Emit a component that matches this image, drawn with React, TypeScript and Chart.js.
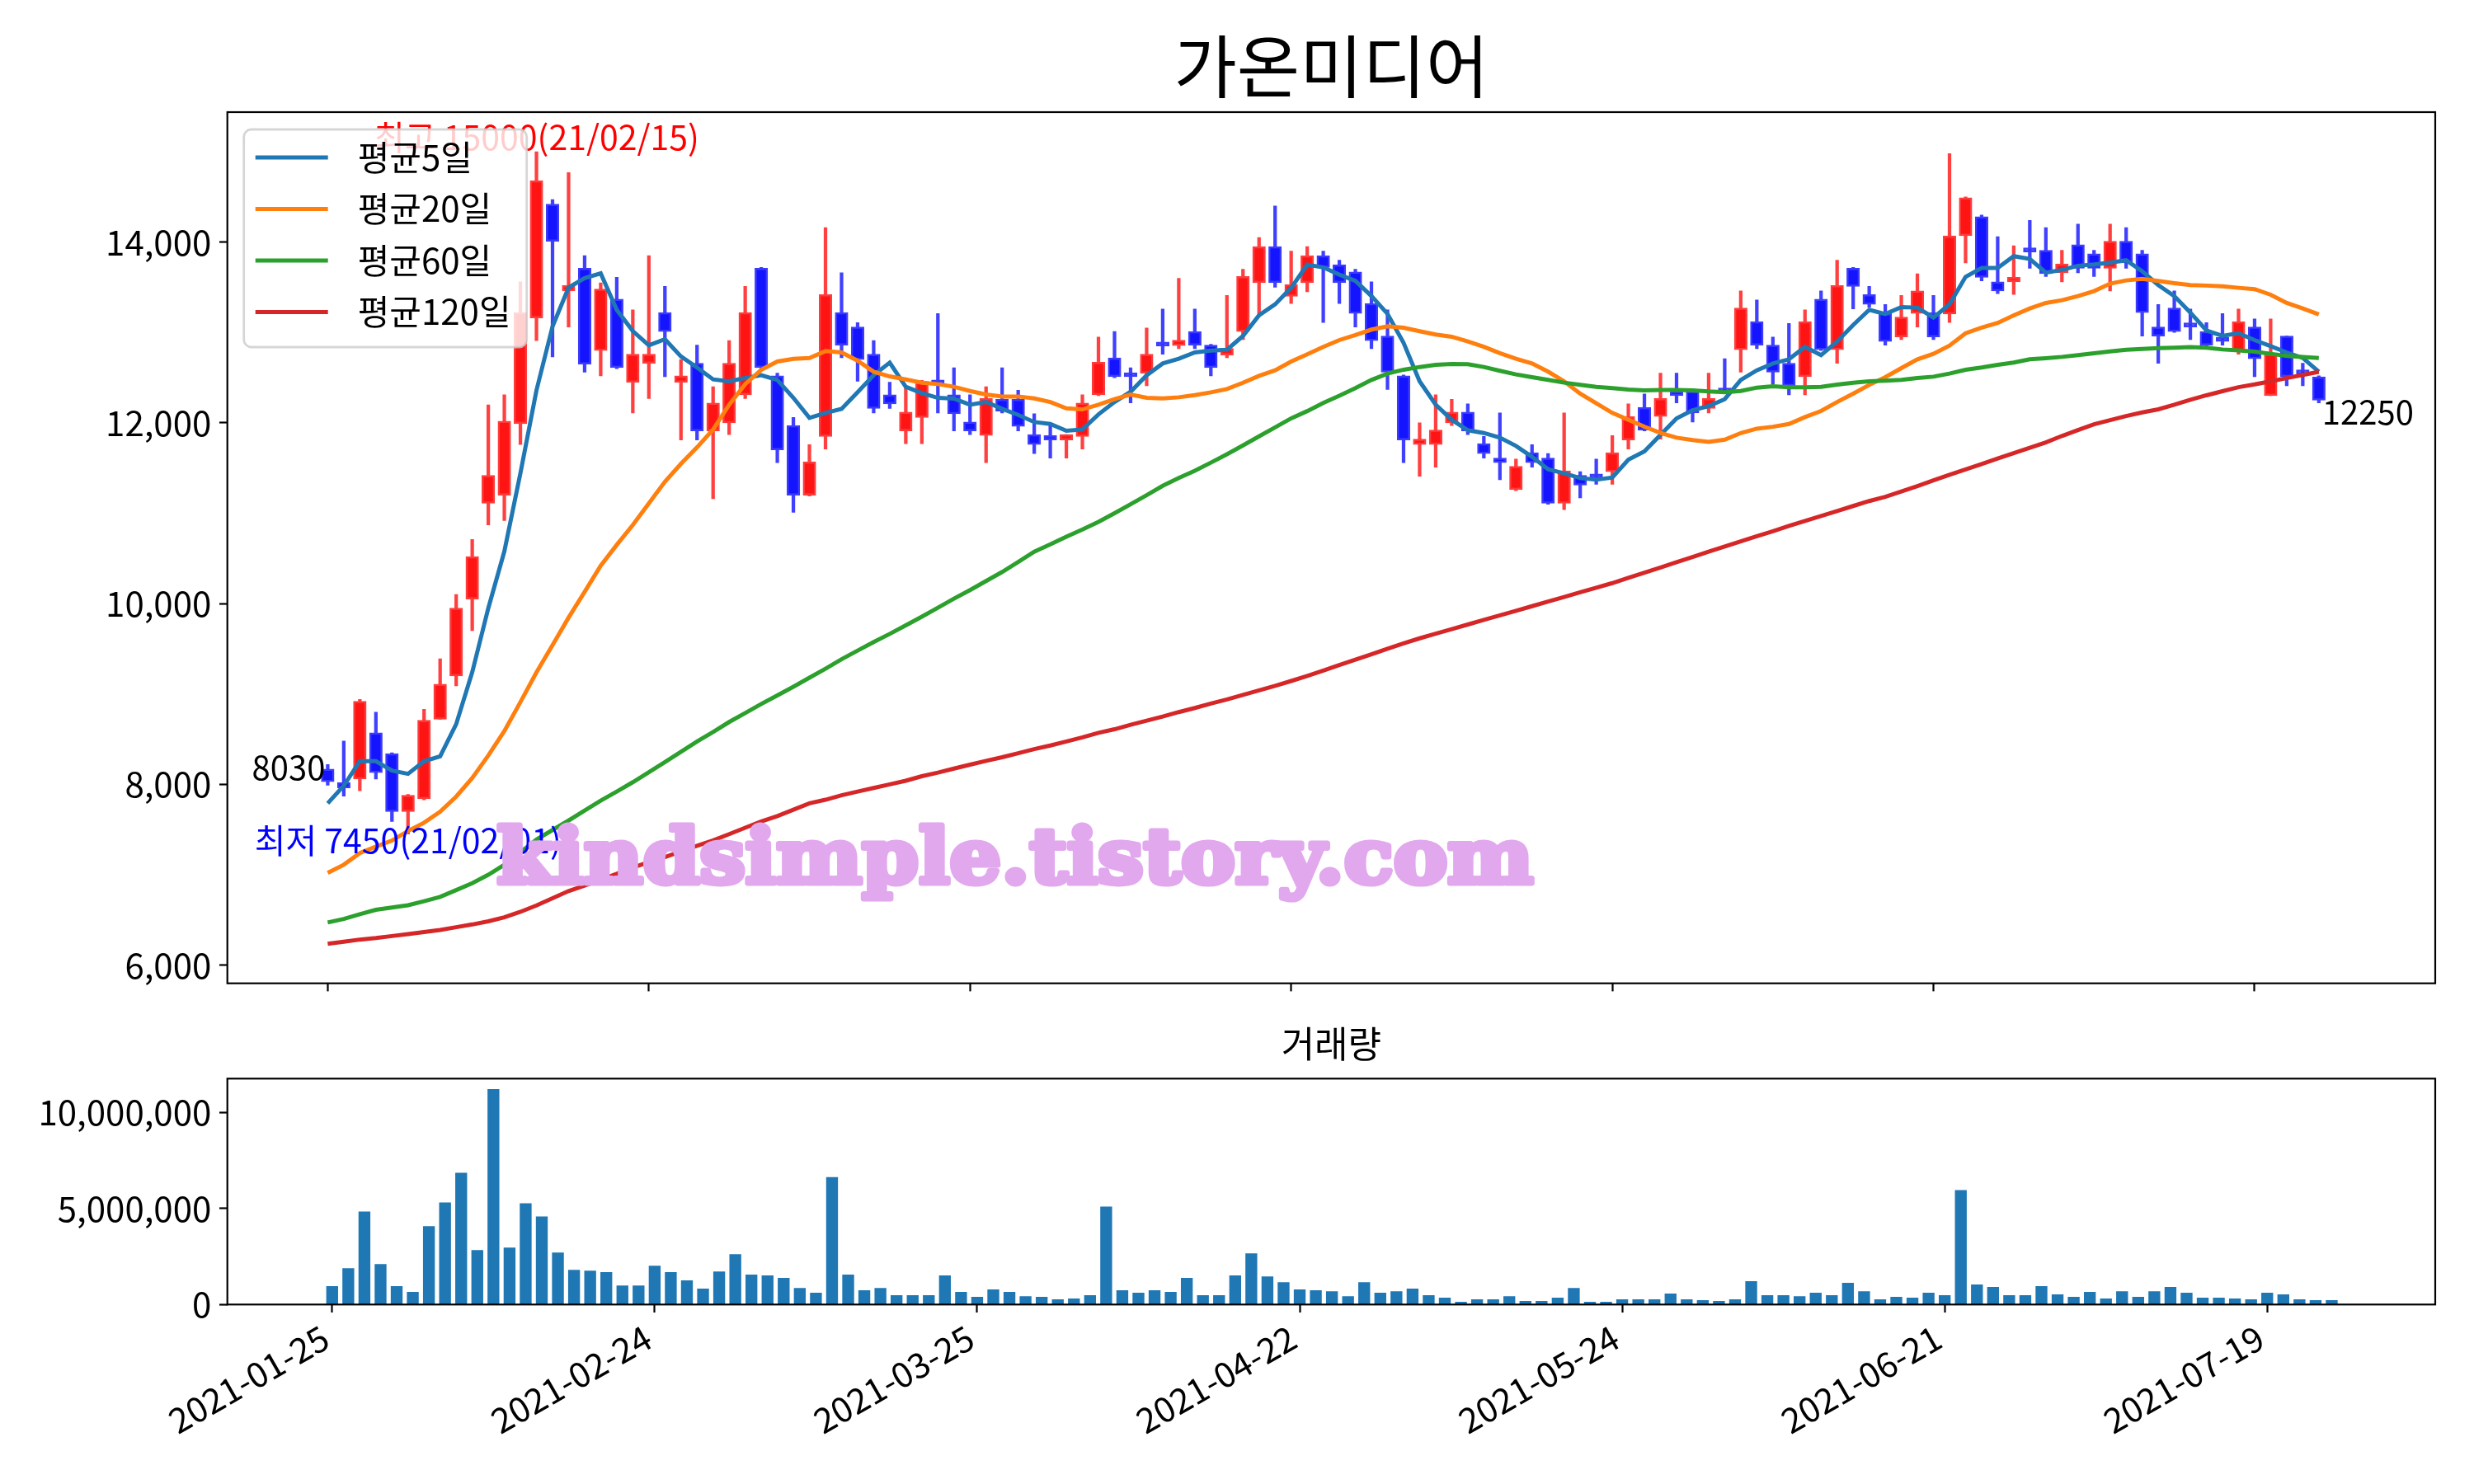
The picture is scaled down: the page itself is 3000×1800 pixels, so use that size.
import React, { useEffect, useRef } from "react";
import { Chart, registerables } from "chart.js";

Chart.register(...registerables);

const FONT = '"Noto Sans CJK KR", "Noto Sans", sans-serif';

const chartTitle = "가온미디어";
const volumeTitle = "거래량";
const watermark = "kindsimple.tistory.com";
const legendLabels = ["평균5일", "평균20일", "평균60일", "평균120일"];
const maColors = ["#1f77b4", "#ff7f0e", "#2ca02c", "#d62728"];

const dates = [
  "2021-01-25", "2021-01-26", "2021-01-27", "2021-01-28", "2021-01-29",
  "2021-02-01", "2021-02-02", "2021-02-03", "2021-02-04", "2021-02-05",
  "2021-02-08", "2021-02-09", "2021-02-10",
  "2021-02-15", "2021-02-16", "2021-02-17", "2021-02-18", "2021-02-19",
  "2021-02-22", "2021-02-23", "2021-02-24", "2021-02-25", "2021-02-26",
  "2021-03-02", "2021-03-03", "2021-03-04", "2021-03-05",
  "2021-03-08", "2021-03-09", "2021-03-10", "2021-03-11", "2021-03-12",
  "2021-03-15", "2021-03-16", "2021-03-17", "2021-03-18", "2021-03-19",
  "2021-03-22", "2021-03-23", "2021-03-24", "2021-03-25", "2021-03-26",
  "2021-03-29", "2021-03-30", "2021-03-31", "2021-04-01", "2021-04-02",
  "2021-04-05", "2021-04-06", "2021-04-07", "2021-04-08", "2021-04-09",
  "2021-04-12", "2021-04-13", "2021-04-14", "2021-04-15", "2021-04-16",
  "2021-04-19", "2021-04-20", "2021-04-21", "2021-04-22", "2021-04-23",
  "2021-04-26", "2021-04-27", "2021-04-28", "2021-04-29", "2021-04-30",
  "2021-05-03", "2021-05-04", "2021-05-06", "2021-05-07",
  "2021-05-10", "2021-05-11", "2021-05-12", "2021-05-13", "2021-05-14",
  "2021-05-17", "2021-05-18", "2021-05-20", "2021-05-21",
  "2021-05-24", "2021-05-25", "2021-05-26", "2021-05-27", "2021-05-28",
  "2021-05-31", "2021-06-01", "2021-06-02", "2021-06-03", "2021-06-04",
  "2021-06-07", "2021-06-08", "2021-06-09", "2021-06-10", "2021-06-11",
  "2021-06-14", "2021-06-15", "2021-06-16", "2021-06-17", "2021-06-18",
  "2021-06-21", "2021-06-22", "2021-06-23", "2021-06-24", "2021-06-25",
  "2021-06-28", "2021-06-29", "2021-06-30", "2021-07-01", "2021-07-02",
  "2021-07-05", "2021-07-06", "2021-07-07", "2021-07-08", "2021-07-09",
  "2021-07-12", "2021-07-13", "2021-07-14", "2021-07-15", "2021-07-16",
  "2021-07-19", "2021-07-20", "2021-07-21", "2021-07-22", "2021-07-23",
];

const opens = [
  8170, 8020, 8060, 8570, 8340, 7700, 7840, 8720, 9200, 10050,
  11110, 11200, 11990, 13160, 14420, 13460, 13710, 12800, 13370, 12450,
  12660, 13220, 12450, 12660, 11910, 12000, 12310, 13710, 12520, 11970,
  11200, 11850, 13220, 13060, 12760, 12310, 11910, 12060, 12460, 12310,
  12010, 11860, 12260, 12260, 11870, 11860, 11810, 11850, 12310, 12720,
  12550, 12550, 12860, 12855, 13010, 12860, 12750, 13010, 13550, 13950,
  13400, 13550, 13850, 13750, 13670, 13320, 12960, 12520, 11760, 11760,
  12000, 12120, 11770, 11610, 11260, 11670, 11610, 11110, 11420, 11420,
  11460, 11810, 12170, 12070, 12350, 12350, 12160, 12370, 12810, 13120,
  12860, 12660, 12510, 13370, 12810, 13710, 13420, 13210, 12950, 13210,
  13220, 13205, 14070, 14280, 13560, 13560, 13910, 13910, 13660, 13970,
  13870, 13710, 14010, 13870, 13060, 13270, 13070, 13010, 12920, 12800,
  13060, 12300, 12960, 12570, 12510,
];
const highs = [
  8220, 8480, 8940, 8800, 8350, 7890, 8830, 9390, 10100, 10710,
  12200, 12310, 13560, 15000, 14470, 14770, 13850, 13550, 13610, 13250,
  13850, 13510, 12700, 12860, 12400, 12910, 13510, 13720, 12550, 12060,
  11760, 14160, 13660, 13110, 12910, 12450, 12400, 12470, 13210, 12610,
  12310, 12400, 12610, 12360, 12100, 11970, 11870, 12310, 12950, 13010,
  12610, 13050, 13260, 13600, 13260, 12870, 13410, 13700, 14050, 14400,
  13900, 13950, 13900, 13800, 13700, 13560, 13250, 12530, 12000, 12310,
  12260, 12210, 11850, 12110, 11600, 11760, 11660, 12110, 11460, 11600,
  11860, 12210, 12320, 12550, 12550, 12380, 12550, 12710, 13460, 13360,
  12950, 13100, 13250, 13460, 13800, 13720, 13510, 13310, 13410, 13650,
  13410, 14980, 14500, 14300, 14060, 13960, 14240, 14160, 13910, 14200,
  13910, 14200, 14160, 13910, 13310, 13460, 13260, 13110, 13210, 13260,
  13150, 13150, 12960, 12660, 12520,
];
const lows = [
  7990, 7870, 7930, 8060, 7590, 7450, 7830, 8720, 9090, 9700,
  10870, 10920, 11760, 12910, 12730, 13060, 12560, 12520, 12600, 12110,
  12270, 12510, 11810, 11810, 11160, 11870, 12270, 12600, 11560, 11010,
  11190, 11710, 12720, 12460, 12110, 12160, 11770, 11770, 12110, 11910,
  11870, 11560, 12110, 11910, 11660, 11610, 11610, 11710, 12300, 12500,
  12220, 12410, 12760, 12820, 12820, 12520, 12720, 12920, 13200, 13500,
  13320, 13450, 13110, 13320, 13060, 12820, 12370, 11560, 11410, 11510,
  11970, 11870, 11610, 11370, 11250, 11510, 11100, 11040, 11170, 11320,
  11320, 11710, 11910, 11820, 12220, 12010, 12110, 12330, 12560, 12820,
  12430, 12310, 12310, 12800, 12660, 13260, 13280, 12860, 12920, 13060,
  12920, 13110, 13770, 13570, 13430, 13420, 13710, 13620, 13560, 13660,
  13620, 13460, 13710, 12960, 12660, 13000, 12920, 12850, 12860, 12760,
  12510, 12300, 12410, 12410, 12220,
];
const closes = [
  8030, 7960, 8920, 8130, 7700, 7880, 8710, 9110, 9950, 10520,
  11420, 12020, 13220, 14680, 14010, 13520, 12650, 13480, 12610, 12760,
  12760, 13010, 12520, 11910, 12220, 12660, 13220, 12610, 11700, 11200,
  11570, 13420, 12860, 12700, 12160, 12210, 12120, 12460, 12430, 12100,
  11910, 12270, 12130, 11960, 11760, 11810, 11870, 12220, 12670, 12510,
  12510, 12760, 12850, 12915, 12860, 12610, 12825, 13620, 13950, 13550,
  13530, 13850, 13720, 13550, 13210, 12910, 12560, 11810, 11820, 11920,
  12120, 11910, 11660, 11560, 11520, 11560, 11110, 11470, 11310, 11390,
  11670, 12070, 11920, 12270, 12300, 12110, 12270, 12340, 13270, 12860,
  12560, 12410, 13120, 12810, 13520, 13510, 13310, 12900, 13170, 13460,
  12950, 14070, 14490, 13610, 13460, 13610, 13890, 13650, 13760, 13710,
  13710, 14010, 13770, 13220, 12960, 13010, 13060, 12860, 12900, 13120,
  12710, 12760, 12510, 12540, 12250,
];
const volumes = [
  940000, 1880000, 4830000, 2090000, 940000, 640000, 4060000, 5300000, 6840000, 2820000,
  11200000, 2950000, 5260000, 4570000, 2690000, 1790000, 1750000, 1670000, 980000, 980000,
  2010000, 1670000, 1240000, 810000, 1710000, 2610000, 1540000, 1500000, 1370000, 850000,
  600000, 6620000, 1540000, 730000, 850000, 470000, 470000, 470000, 1500000, 640000,
  380000, 770000, 640000, 420000, 380000, 260000, 300000, 470000, 5080000, 730000,
  600000, 730000, 640000, 1370000, 470000, 470000, 1500000, 2650000, 1450000, 1150000,
  770000, 730000, 680000, 420000, 1150000, 600000, 680000, 810000, 470000, 340000,
  130000, 260000, 260000, 420000, 170000, 170000, 340000, 850000, 130000, 130000,
  260000, 260000, 260000, 560000, 260000, 210000, 170000, 260000, 1200000, 470000,
  470000, 420000, 600000, 470000, 1110000, 680000, 260000, 380000, 340000, 600000,
  470000, 5940000, 1030000, 900000, 470000, 470000, 940000, 510000, 380000, 640000,
  300000, 680000, 380000, 680000, 900000, 600000, 340000, 340000, 300000, 260000,
  600000, 510000, 260000, 210000, 210000,
];
const ma5 = [
  7791, 7985, 8257, 8257, 8152, 8116, 8257, 8310, 8666, 9242,
  9949, 10578, 11443, 12360, 13067, 13497, 13601, 13654, 13250, 13015,
  12857, 12925, 12734, 12612, 12481, 12460, 12496, 12527, 12475, 12277,
  12055, 12110, 12155, 12338, 12527, 12667, 12399, 12329, 12277, 12268,
  12201, 12231, 12155, 12088, 12009, 11988, 11912, 11927, 12094, 12231,
  12344, 12526, 12657, 12709, 12779, 12800, 12809, 12962, 13190, 13311,
  13494, 13750, 13720, 13640, 13571, 13403, 13206, 12886, 12460, 12202,
  12034, 11919, 11888, 11836, 11745, 11624, 11487, 11441, 11389, 11371,
  11395, 11593, 11684, 11867, 12050, 12140, 12186, 12262, 12475, 12581,
  12657, 12703, 12840, 12749, 12901, 13083, 13251, 13205, 13281, 13275,
  13165, 13312, 13616, 13713, 13713, 13844, 13814, 13662, 13692, 13738,
  13753, 13774, 13799, 13677, 13525, 13403, 13220, 13023, 12962, 12992,
  12916, 12849, 12779, 12718, 12566,
];
const ma20 = [
  7020, 7111, 7241, 7311, 7378, 7485, 7576, 7698, 7865, 8070,
  8320, 8590, 8910, 9240, 9540, 9845, 10130, 10420, 10650, 10870,
  11110, 11349, 11547, 11729, 11927, 12201, 12429, 12587, 12679, 12709,
  12718, 12794, 12779, 12688, 12566, 12514, 12481, 12444, 12429, 12399,
  12353, 12314, 12292, 12292, 12271, 12231, 12161, 12149, 12201, 12262,
  12313, 12277, 12271, 12283, 12307, 12338, 12374, 12444, 12520, 12581,
  12679, 12758, 12840, 12916, 12971, 13032, 13069, 13053, 13014, 12978,
  12953, 12901, 12841, 12771, 12710, 12658, 12567, 12460, 12323, 12217,
  12110, 12034, 11958, 11888, 11836, 11810, 11790, 11814, 11887, 11936,
  11957, 11988, 12064, 12131, 12231, 12323, 12420, 12505, 12606, 12703,
  12764, 12855, 12992, 13053, 13105, 13190, 13266, 13327, 13357, 13403,
  13458, 13540, 13576, 13592, 13570, 13546, 13525, 13519, 13510, 13494,
  13479, 13418, 13327, 13266, 13199,
];
const ma60 = [
  6472, 6511, 6563, 6612, 6638, 6663, 6708, 6755, 6830, 6907,
  7000, 7110, 7250, 7390, 7495, 7600, 7710, 7820, 7920, 8024,
  8135, 8246, 8360, 8474, 8580, 8690, 8790, 8890, 8985, 9080,
  9180, 9280, 9385, 9480, 9575, 9665, 9760, 9855, 9955, 10055,
  10150, 10250, 10350, 10460, 10575, 10655, 10740, 10820, 10905, 11000,
  11100, 11200, 11303, 11390, 11470, 11560, 11653, 11750, 11851, 11950,
  12050, 12130, 12220, 12300, 12384, 12475, 12545, 12588, 12618, 12643,
  12652, 12649, 12618, 12576, 12536, 12506, 12475, 12445, 12421, 12399,
  12384, 12369, 12360, 12363, 12363, 12360, 12347, 12338, 12353, 12390,
  12405, 12393, 12393, 12399, 12423, 12444, 12460, 12466, 12475, 12496,
  12511, 12545, 12587, 12612, 12642, 12667, 12703, 12715, 12730, 12750,
  12770, 12790, 12808, 12818, 12826, 12831, 12838, 12831, 12812, 12801,
  12788, 12764, 12740, 12728, 12718,
];
const ma120 = [
  6237, 6260, 6283, 6300, 6322, 6344, 6367, 6390, 6420, 6450,
  6485, 6530, 6590, 6660, 6740, 6820, 6880, 6945, 7010, 7080,
  7140, 7196, 7260, 7320, 7380, 7450, 7520, 7590, 7650, 7720,
  7790, 7830, 7880, 7920, 7960, 8000, 8040, 8090, 8130, 8175,
  8218, 8260, 8300, 8345, 8390, 8430, 8475, 8520, 8570, 8610,
  8660, 8705, 8750, 8800, 8845, 8895, 8940, 8990, 9040, 9090,
  9144, 9200, 9260, 9320, 9380, 9440, 9500, 9560, 9616, 9667,
  9718, 9769, 9820, 9870, 9921, 9972, 10023, 10074, 10125, 10176,
  10227, 10285, 10343, 10400, 10458, 10516, 10574, 10632, 10690, 10745,
  10801, 10860, 10915, 10969, 11025, 11080, 11135, 11181, 11240, 11300,
  11364, 11425, 11485, 11545, 11605, 11665, 11725, 11784, 11855, 11920,
  11985, 12030, 12075, 12115, 12150, 12200, 12255, 12305, 12350, 12395,
  12425, 12460, 12495, 12530, 12565,
];

const priceTicks = [6000, 8000, 10000, 12000, 14000];
const volumeTicks = [0, 5000000, 10000000];
const dateTickIdx = [0, 20, 40, 60, 80, 100, 120];

const TICK_FONT = 42;
const idx = dates.map((_, i) => i);
const up = closes.map((c, i) => c >= opens[i]);

function roundRectPath(ctx: CanvasRenderingContext2D, x: number, y: number, w: number, h: number, r: number) {
  ctx.beginPath();
  ctx.moveTo(x + r, y);
  ctx.lineTo(x + w - r, y);
  ctx.arcTo(x + w, y, x + w, y + r, r);
  ctx.lineTo(x + w, y + h - r);
  ctx.arcTo(x + w, y + h, x + w - r, y + h, r);
  ctx.lineTo(x + r, y + h);
  ctx.arcTo(x, y + h, x, y + h - r, r);
  ctx.lineTo(x, y + r);
  ctx.arcTo(x, y, x + r, y, r);
  ctx.closePath();
}

const shortDate = (d: string) => d.slice(2).replace(/-/g, "/");

const mainDecor = {
  id: "mainDecor",
  afterDatasetsDraw(chart: any) {
    const { ctx, chartArea: a, scales } = chart;
    const xs = scales.x;
    const ys = scales.y;
    ctx.save();
    ctx.strokeStyle = "#000";
    ctx.lineWidth = 2.2;
    ctx.strokeRect(a.left, a.top, a.right - a.left, a.bottom - a.top);

    ctx.fillStyle = "#000";
    ctx.font = `83px ${FONT}`;
    ctx.textAlign = "center";
    ctx.textBaseline = "middle";
    ctx.fillText(chartTitle, (a.left + a.right) / 2, 80);

    let maxI = 0;
    let minI = 0;
    highs.forEach((h, i) => { if (h > highs[maxI]) maxI = i; });
    lows.forEach((l, i) => { if (l < lows[minI]) minI = i; });
    ctx.font = `41px ${FONT}`;
    ctx.textAlign = "center";
    ctx.textBaseline = "alphabetic";
    ctx.fillStyle = "#ff0000";
    ctx.fillText(`최고 ${highs[maxI]}(${shortDate(dates[maxI])})`, xs.getPixelForValue(maxI), ys.getPixelForValue(highs[maxI]) - 2);
    ctx.fillStyle = "#0000ff";
    ctx.textBaseline = "middle";
    ctx.fillText(`최저 ${lows[minI]}(${shortDate(dates[minI])})`, xs.getPixelForValue(minI), ys.getPixelForValue(lows[minI]) + 8);

    ctx.fillStyle = "#000";
    ctx.font = `40px ${FONT}`;
    ctx.textBaseline = "alphabetic";
    ctx.textAlign = "right";
    ctx.fillText(String(closes[0]), xs.getPixelForValue(0) - 3, ys.getPixelForValue(closes[0]) - 2);
    const last = closes.length - 1;
    ctx.textAlign = "left";
    ctx.fillText(String(closes[last]), xs.getPixelForValue(last) + 4, ys.getPixelForValue(closes[last]) + 30);

    const lx = a.left + 20;
    const ly = a.top + 21;
    const lw = 343;
    const lh = 264;
    roundRectPath(ctx, lx, ly, lw, lh, 9);
    ctx.fillStyle = "rgba(255,255,255,0.8)";
    ctx.fill();
    ctx.strokeStyle = "rgba(204,204,204,0.8)";
    ctx.lineWidth = 2.8;
    ctx.stroke();
    ctx.font = `42px ${FONT}`;
    ctx.textAlign = "left";
    ctx.textBaseline = "middle";
    legendLabels.forEach((lab, k) => {
      const yy = ly + 34 + k * 62.5;
      ctx.strokeStyle = maColors[k];
      ctx.lineWidth = 5;
      ctx.beginPath();
      ctx.moveTo(lx + 14, yy);
      ctx.lineTo(lx + 102, yy);
      ctx.stroke();
      ctx.fillStyle = "#000";
      ctx.fillText(lab, lx + 138, yy);
    });

    ctx.font = `bold 92px "DejaVu Serif", serif`;
    const m = ctx.measureText(watermark).width;
    const targetW = 1257;
    ctx.translate(1231, 1071);
    ctx.scale(targetW / m, 1);
    ctx.textAlign = "center";
    ctx.textBaseline = "alphabetic";
    ctx.fillStyle = "rgb(226,168,238)";
    ctx.strokeStyle = "rgb(226,168,238)";
    ctx.lineJoin = "round";
    ctx.lineWidth = 7;
    ctx.strokeText(watermark, 0, 0);
    ctx.fillText(watermark, 0, 0);
    ctx.restore();
  },
};

const volDecor = {
  id: "volDecor",
  afterDatasetsDraw(chart: any) {
    const { ctx, chartArea: a } = chart;
    ctx.save();
    ctx.strokeStyle = "#000";
    ctx.lineWidth = 2.2;
    ctx.strokeRect(a.left, a.top, a.right - a.left, a.bottom - a.top);
    ctx.fillStyle = "#000";
    ctx.font = `44px ${FONT}`;
    ctx.textAlign = "center";
    ctx.textBaseline = "middle";
    ctx.fillText(volumeTitle, (a.left + a.right) / 2, a.top - 42);
    ctx.restore();
  },
};

const axisGrid = {
  display: true,
  drawOnChartArea: false,
  drawTicks: true,
  tickLength: 9.7,
  tickWidth: 2.2,
  tickColor: "#000",
  offset: false,
};

function mainConfig(): any {
  const lineDs = [ma5, ma20, ma60, ma120].map((arr, k) => ({
    type: "line",
    label: legendLabels[k],
    data: idx.map((i) => ({ x: i, y: arr[i] })),
    borderColor: maColors[k],
    backgroundColor: maColors[k],
    borderWidth: 5,
    pointRadius: 0,
    tension: 0,
    fill: false,
    order: 3 - k,
  }));
  return {
    type: "bar",
    data: {
      datasets: [
        ...lineDs,
        {
          type: "bar",
          label: "body",
          data: idx.map((i) => ({ x: i, y: [Math.min(opens[i], closes[i]), Math.max(opens[i], closes[i])] })),
          backgroundColor: idx.map((i) => (up[i] ? "#ff1414" : "#1414ff")),
          borderColor: idx.map((i) => (up[i] ? "#ff3c3c" : "#3c3cff")),
          borderWidth: 2.5,
          borderSkipped: false,
          barThickness: 15.5,
          minBarLength: 5,
          grouped: false,
          order: 10,
        },
        {
          type: "bar",
          label: "wick",
          data: idx.map((i) => ({ x: i, y: [lows[i], highs[i]] })),
          backgroundColor: idx.map((i) => (up[i] ? "rgba(255,0,0,0.75)" : "rgba(0,0,255,0.75)")),
          borderWidth: 0,
          barThickness: 3.6,
          grouped: false,
          order: 11,
        },
      ],
    },
    options: {
      animation: false,
      responsive: false,
      maintainAspectRatio: false,
      devicePixelRatio: 1,
      layout: { padding: { top: 136, right: 47, left: 0, bottom: 0 } },
      plugins: { legend: { display: false }, tooltip: { enabled: false }, title: { display: false } },
      scales: {
        x: {
          type: "linear",
          min: -6.25,
          max: 131.25,
          offset: false,
          afterBuildTicks: (s: any) => { s.ticks = dateTickIdx.map((v) => ({ value: v })); },
          afterFit: (s: any) => { s.height = 107.3; },
          ticks: { callback: () => "", autoSkip: false, maxRotation: 0, font: { family: FONT, size: TICK_FONT } },
          grid: axisGrid,
          border: { display: false },
        },
        y: {
          type: "linear",
          min: 5799,
          max: 15438,
          afterBuildTicks: (s: any) => { s.ticks = priceTicks.map((v) => ({ value: v })); },
          afterFit: (s: any) => { s.width = 275.7; },
          ticks: {
            callback: (v: any) => Number(v).toLocaleString("en-US"),
            color: "#000",
            padding: 9.7,
            font: { family: FONT, size: TICK_FONT },
          },
          grid: axisGrid,
          border: { display: false },
        },
      },
    },
    plugins: [mainDecor],
  };
}

function volConfig(): any {
  return {
    type: "bar",
    data: {
      datasets: [
        {
          label: volumeTitle,
          data: idx.map((i) => ({ x: i, y: volumes[i] })),
          backgroundColor: "#1f77b4",
          borderWidth: 0,
          barThickness: 13.7,
          grouped: false,
        },
      ],
    },
    options: {
      animation: false,
      responsive: false,
      maintainAspectRatio: false,
      devicePixelRatio: 1,
      layout: { padding: { top: 108.3, right: 47, left: 0, bottom: 0 } },
      plugins: { legend: { display: false }, tooltip: { enabled: false }, title: { display: false } },
      scales: {
        x: {
          type: "linear",
          min: -6.5,
          max: 130.42,
          offset: false,
          afterBuildTicks: (s: any) => { s.ticks = dateTickIdx.map((v) => ({ value: v })); },
          afterFit: (s: any) => { s.height = 217.7; },
          ticks: {
            callback: (v: any) => dates[v] ?? "",
            autoSkip: false,
            minRotation: 30,
            maxRotation: 30,
            color: "#000",
            padding: 5,
            labelOffset: -8,
            font: { family: FONT, size: TICK_FONT },
          },
          grid: axisGrid,
          border: { display: false },
        },
        y: {
          type: "linear",
          min: 0,
          max: 11760000,
          afterBuildTicks: (s: any) => { s.ticks = volumeTicks.map((v) => ({ value: v })); },
          afterFit: (s: any) => { s.width = 275.7; },
          ticks: {
            callback: (v: any) => Number(v).toLocaleString("en-US"),
            color: "#000",
            padding: 9.7,
            font: { family: FONT, size: TICK_FONT },
          },
          grid: axisGrid,
          border: { display: false },
        },
      },
    },
    plugins: [volDecor],
  };
}

export default function App() {
  const mainRef = useRef<HTMLCanvasElement>(null);
  const volRef = useRef<HTMLCanvasElement>(null);
  useEffect(() => {
    Chart.defaults.font.family = FONT;
    const c1 = new Chart(mainRef.current as HTMLCanvasElement, mainConfig());
    const c2 = new Chart(volRef.current as HTMLCanvasElement, volConfig());
    return () => {
      c1.destroy();
      c2.destroy();
    };
  }, []);
  return (
    <div style={{ position: "absolute", left: 0, top: 0, width: 3000, height: 1800, background: "#fff" }}>
      <canvas ref={mainRef} width={3000} height={1300} style={{ position: "absolute", left: 0, top: 0, width: 3000, height: 1300 }} />
      <canvas ref={volRef} width={3000} height={600} style={{ position: "absolute", left: 0, top: 1200, width: 3000, height: 600 }} />
    </div>
  );
}
